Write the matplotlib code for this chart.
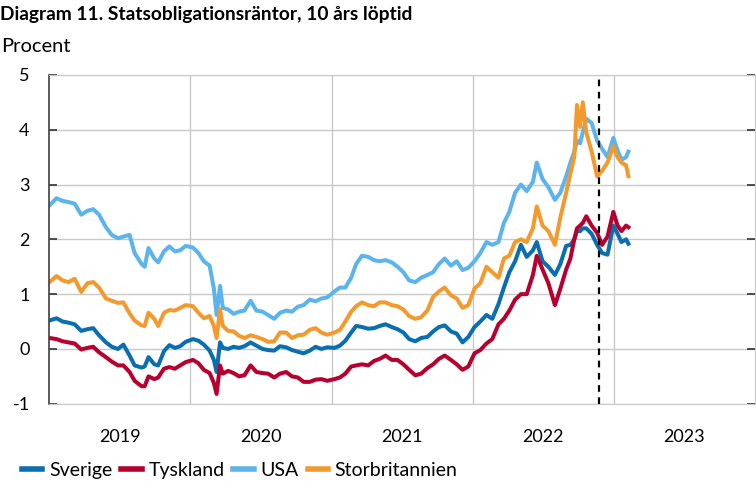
import pandas as pd
import matplotlib
matplotlib.use("Agg")
import matplotlib.pyplot as plt

plt.rcParams["font.family"] = ["Lato", "DejaVu Sans"]
plt.rcParams["axes.unicode_minus"] = False

# Observation dates (roughly every two weeks, extra points around spikes)
dates = [
    "2019-01-02", "2019-01-20", "2019-02-05", "2019-02-20", "2019-03-08", "2019-03-25",
    "2019-04-10", "2019-04-25", "2019-05-10", "2019-05-28", "2019-06-12", "2019-06-28",
    "2019-07-12", "2019-07-28", "2019-08-10", "2019-08-28", "2019-09-05", "2019-09-15",
    "2019-09-30", "2019-10-10", "2019-10-25", "2019-11-08", "2019-11-22", "2019-12-06",
    "2019-12-20",
    "2020-01-08", "2020-01-22", "2020-02-05", "2020-02-20", "2020-03-02", "2020-03-09",
    "2020-03-18", "2020-03-25", "2020-04-08", "2020-04-22", "2020-05-06", "2020-05-20",
    "2020-06-05", "2020-06-20", "2020-07-06", "2020-07-20", "2020-08-05", "2020-08-20",
    "2020-09-05", "2020-09-20", "2020-10-05", "2020-10-20", "2020-11-05", "2020-11-20",
    "2020-12-05", "2020-12-20",
    "2021-01-08", "2021-01-22", "2021-02-05", "2021-02-20", "2021-03-05", "2021-03-20",
    "2021-04-05", "2021-04-20", "2021-05-05", "2021-05-20", "2021-06-05", "2021-06-20",
    "2021-07-05", "2021-07-20", "2021-08-05", "2021-08-20", "2021-09-05", "2021-09-20",
    "2021-10-05", "2021-10-20", "2021-11-05", "2021-11-20", "2021-12-05", "2021-12-20",
    "2022-01-05", "2022-01-20", "2022-02-05", "2022-02-20", "2022-03-08", "2022-03-22",
    "2022-04-05", "2022-04-20", "2022-05-05", "2022-05-20", "2022-06-05", "2022-06-15",
    "2022-06-30", "2022-07-15", "2022-08-01", "2022-08-15", "2022-08-30", "2022-09-10",
    "2022-09-20", "2022-09-27", "2022-10-05", "2022-10-12", "2022-10-21", "2022-11-04",
    "2022-11-18", "2022-12-01", "2022-12-15", "2022-12-30", "2023-01-10", "2023-01-20",
    "2023-02-01", "2023-02-07",
]

sverige = [
    0.52, 0.56, 0.50, 0.48, 0.45, 0.33, 0.36, 0.38, 0.25, 0.12, 0.04, 0.00,
    0.08, -0.12, -0.30, -0.34, -0.32, -0.15, -0.28, -0.30, -0.04, 0.07, 0.02, 0.05,
    0.13,
    0.18, 0.15, 0.08, -0.03, -0.20, -0.42, 0.12, 0.02, 0.00, 0.04, 0.02, 0.05,
    0.12, 0.06, 0.00, -0.02, -0.03, 0.05, 0.03, -0.02, -0.05, -0.08, -0.03, 0.04,
    0.00, 0.03,
    0.02, 0.06, 0.15, 0.30, 0.42, 0.40, 0.37, 0.38, 0.42, 0.45, 0.40, 0.36,
    0.30, 0.18, 0.14, 0.20, 0.22, 0.32, 0.40, 0.43, 0.32, 0.28, 0.12, 0.22,
    0.40, 0.50, 0.62, 0.55, 0.82, 1.12, 1.40, 1.60, 1.90, 1.68, 1.80, 1.95,
    1.60, 1.50, 1.35, 1.55, 1.88, 1.90, 2.00, 2.15, 2.15, 2.20, 2.20, 2.10,
    1.90, 1.75, 1.72, 2.25, 2.10, 1.95, 2.00, 1.92,
]

tyskland = [
    0.20, 0.18, 0.14, 0.12, 0.10, -0.01, 0.02, 0.04, -0.06, -0.15, -0.23, -0.30,
    -0.30, -0.42, -0.58, -0.68, -0.68, -0.50, -0.55, -0.52, -0.36, -0.33, -0.36, -0.30,
    -0.24,
    -0.20, -0.26, -0.38, -0.44, -0.62, -0.82, -0.30, -0.45, -0.40, -0.44, -0.50, -0.48,
    -0.30, -0.42, -0.44, -0.45, -0.52, -0.45, -0.42, -0.50, -0.52, -0.60, -0.60, -0.56,
    -0.55, -0.58,
    -0.55, -0.52, -0.45, -0.32, -0.30, -0.28, -0.30, -0.22, -0.18, -0.12, -0.20, -0.20,
    -0.28, -0.38, -0.48, -0.45, -0.35, -0.28, -0.18, -0.12, -0.20, -0.28, -0.38, -0.32,
    -0.08, -0.02, 0.10, 0.18, 0.45, 0.55, 0.70, 0.90, 1.00, 1.00, 1.35, 1.70,
    1.45, 1.20, 0.80, 1.10, 1.45, 1.65, 2.00, 2.20, 2.25, 2.30, 2.42, 2.25,
    2.12, 1.90, 2.05, 2.50, 2.25, 2.15, 2.25, 2.22,
]

usa = [
    2.62, 2.75, 2.70, 2.68, 2.65, 2.45, 2.52, 2.55, 2.45, 2.22, 2.08, 2.02,
    2.05, 2.08, 1.75, 1.55, 1.50, 1.84, 1.65, 1.58, 1.78, 1.87, 1.78, 1.80,
    1.88,
    1.85, 1.75, 1.60, 1.52, 1.10, 0.62, 1.15, 0.75, 0.72, 0.64, 0.68, 0.70,
    0.88, 0.70, 0.68, 0.62, 0.55, 0.66, 0.70, 0.68, 0.77, 0.80, 0.90, 0.87,
    0.92, 0.94,
    1.05, 1.12, 1.12, 1.30, 1.55, 1.70, 1.68, 1.62, 1.60, 1.62, 1.58, 1.50,
    1.40, 1.25, 1.22, 1.30, 1.35, 1.40, 1.55, 1.65, 1.52, 1.60, 1.44, 1.48,
    1.60, 1.75, 1.95, 1.90, 1.95, 2.30, 2.50, 2.85, 3.00, 2.88, 3.05, 3.40,
    3.10, 2.95, 2.72, 2.85, 3.15, 3.40, 3.60, 3.80, 3.75, 3.95, 4.20, 4.12,
    3.80, 3.65, 3.50, 3.85, 3.62, 3.45, 3.50, 3.60,
]

storbritannien = [
    1.22, 1.33, 1.25, 1.22, 1.28, 1.04, 1.20, 1.22, 1.12, 0.92, 0.88, 0.84,
    0.85, 0.65, 0.52, 0.43, 0.42, 0.66, 0.55, 0.42, 0.66, 0.71, 0.70, 0.75,
    0.80,
    0.78, 0.66, 0.56, 0.60, 0.42, 0.20, 0.72, 0.42, 0.33, 0.32, 0.24, 0.20,
    0.25, 0.22, 0.18, 0.13, 0.14, 0.30, 0.30, 0.20, 0.25, 0.26, 0.35, 0.38,
    0.30, 0.26,
    0.30, 0.35, 0.50, 0.68, 0.78, 0.85, 0.80, 0.78, 0.85, 0.85, 0.80, 0.78,
    0.72, 0.60, 0.55, 0.58, 0.70, 0.95, 1.05, 1.12, 0.98, 0.92, 0.75, 0.80,
    1.10, 1.20, 1.50, 1.40, 1.30, 1.65, 1.70, 1.95, 2.00, 1.95, 2.20, 2.60,
    2.25, 2.15, 1.90, 2.40, 2.85, 3.20, 3.50, 4.45, 4.05, 4.50, 3.95, 3.60,
    3.15, 3.25, 3.40, 3.70, 3.50, 3.40, 3.35, 3.15,
]

series = [
    ("Sverige", sverige, "#0b6eae"),
    ("Tyskland", tyskland, "#b8002f"),
    ("USA", usa, "#5db4ea"),
    ("Storbritannien", storbritannien, "#f39a2e"),
]
years = [2019, 2020, 2021, 2022, 2023]
dashed_date = "2022-11-24"

x = pd.to_datetime(dates)

fig = plt.figure(figsize=(7.56, 4.83), dpi=100)
ax = fig.add_axes([0.065, 0.164, 0.934, 0.681])

for name, vals, col in series:
    ax.plot(x, vals, color=col, lw=2.9, label=name, solid_joinstyle="round")

ax.axvline(pd.Timestamp(dashed_date), color="black", lw=1.6, ls=(0, (3, 2.5)), zorder=5)

ax.set_ylim(-1, 5)
ax.set_xlim(pd.Timestamp("2019-01-01"), pd.Timestamp("2024-01-01"))
ax.set_yticks(range(-1, 6))
ax.tick_params(axis="y", direction="in", length=6, width=1.2, color="#333333",
               labelsize=13, pad=14, right=True)

# year boundaries as gridlines, labels in the middle of each year
ax.set_xticks([pd.Timestamp(f"{y}-01-01") for y in years[1:]])
ax.set_xticklabels([])
ax.set_xticks([pd.Timestamp(f"{y}-07-02") for y in years], minor=True)
ax.set_xticklabels([str(y) for y in years], minor=True)
ax.tick_params(axis="x", which="both", length=0, labelsize=13, pad=18)

ax.grid(True, color="#c8c8c8", lw=1.0)
ax.set_axisbelow(True)
for side in ["top", "bottom", "right"]:
    ax.spines[side].set_color("#c8c8c8")
ax.spines["left"].set_color("#404040")
ax.spines["left"].set_linewidth(1.2)

fig.text(0.0, 0.988, "Diagram 11. Statsobligationsräntor, 10 års löptid",
         fontsize=13.8, fontweight="bold", va="top", ha="left")
fig.text(0.002, 0.922, "Procent", fontsize=14.5, va="top", ha="left")

handles, labels = ax.get_legend_handles_labels()
leg = fig.legend(handles, labels, loc="lower left", bbox_to_anchor=(0.006, -0.028),
                 ncol=4, frameon=False, fontsize=14, handlelength=1.05,
                 handletextpad=0.35, columnspacing=0.45)
for line in leg.get_lines():
    line.set_linewidth(4)

fig.savefig("out.png", dpi=100)
